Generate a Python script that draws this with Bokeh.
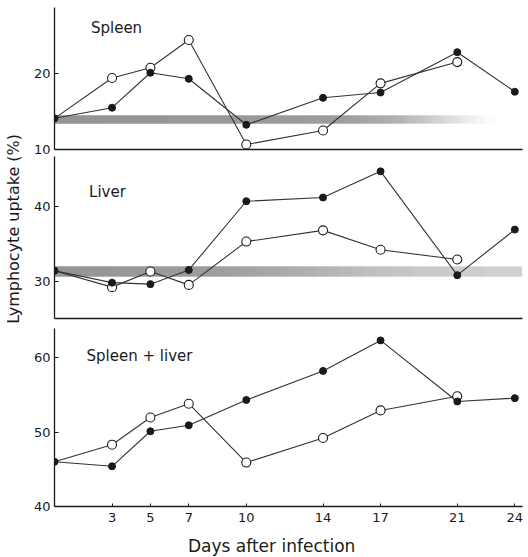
import numpy as np
from bokeh.plotting import figure
from bokeh.layouts import column, row
from bokeh.models import FixedTicker, Label, Range1d
from bokeh.embed import file_html
from bokeh.resources import INLINE

# ---------------- data ----------------
days_filled = [0, 3, 5, 7, 10, 14, 17, 21, 24]
days_open = [0, 3, 5, 7, 10, 14, 17, 21]
x_ticks = [3, 5, 7, 10, 14, 17, 21, 24]

spleen_filled = [14.1, 15.5, 20.1, 19.3, 13.25, 16.8, 17.5, 22.8, 17.6]
spleen_open = [14.1, 19.4, 20.75, 24.4, 10.66, 12.5, 18.7, 21.5]

liver_filled = [31.4, 29.8, 29.6, 31.5, 40.7, 41.2, 44.7, 30.8, 36.9]
liver_open = [31.4, 29.2, 31.3, 29.5, 35.3, 36.8, 34.2, 32.9]

both_filled = [46.0, 45.4, 50.1, 50.9, 54.3, 58.2, 62.3, 54.1, 54.55]
both_open = [46.0, 48.3, 51.95, 53.8, 45.9, 49.2, 52.9, 54.8]

spleen_band = [13.4, 14.5]   # control range
liver_band = [30.6, 32.0]

spleen_ticks = [10, 20]
liver_ticks = [30, 40]
both_ticks = [40, 50, 60]

# ---------------- style ----------------
FONT = "DejaVu Sans"
INK = "#1a1a1a"
LINE = "#333333"
BAND = "#6f6f6f"
X_END = 24.4

x_range = Range1d(0, X_END)
MAIN_W = 504


def make_fig(height, yr, border_top, border_bottom):
    p = figure(width=MAIN_W, height=height, x_range=x_range, y_range=Range1d(*yr),
               output_backend="svg", toolbar_location=None,
               min_border_left=30, min_border_right=6,
               min_border_top=border_top, min_border_bottom=border_bottom)
    p.grid.visible = False
    p.outline_line_color = None
    p.background_fill_color = "white"
    p.border_fill_color = "white"
    for ax in p.xaxis + p.yaxis:
        ax.axis_line_color = INK
        ax.axis_line_width = 1.3
        ax.major_tick_line_color = INK
        ax.major_tick_in = 4
        ax.major_tick_out = 0
        ax.minor_tick_in = 0
        ax.minor_tick_out = 0
        ax.major_label_text_font = FONT
        ax.major_label_text_font_size = "13px"
        ax.major_label_text_color = INK
        ax.major_label_standoff = 4
    return p


def hide_x_labels(p):
    p.xaxis.ticker = FixedTicker(ticks=[])
    p.xaxis.major_label_text_font_size = "0px"
    p.xaxis.major_label_standoff = 0
    p.xaxis.axis_label_standoff = 0


def band(p, lo, hi, stops_x, stops_a, a=0.035):
    # stacked translucent layers give a smooth left-to-right fade
    xs = np.linspace(0, X_END, 800)
    op = np.interp(xs, stops_x, stops_a)
    k = int(np.ceil(np.log(1 - max(stops_a)) / np.log(1 - a)))
    ends = []
    for j in range(1, k + 1):
        t = 1 - (1 - a) ** j
        ok = xs[op >= t - 1e-9]
        if len(ok):
            ends.append(ok.max())
    n = len(ends)
    p.quad(left=[0] * n, right=ends, bottom=[lo] * n, top=[hi] * n,
           fill_color=BAND, fill_alpha=a, line_color=None)


def series(p, yf, yo):
    p.line(days_filled, yf, line_color=LINE, line_width=1.1)
    p.line(days_open, yo, line_color=LINE, line_width=1.1)
    p.scatter(days_open[1:], yo[1:], size=9, fill_color="white",
              line_color=INK, line_width=1.1)
    p.scatter(days_filled, yf, size=7, fill_color=INK, line_color=INK)


def panel_label(p, text, x, y):
    p.add_layout(Label(x=x, y=y, text=text, text_font=FONT,
                       text_font_size="15px", text_color=INK,
                       text_baseline="alphabetic", text_align="left"))


def blank_fig(width, height):
    f = figure(width=width, height=height, x_range=Range1d(0, 1), y_range=Range1d(0, 1),
               output_backend="svg", toolbar_location=None,
               min_border=0, x_axis_type=None, y_axis_type=None)
    f.grid.visible = False
    f.outline_line_color = None
    return f


# top: spleen
p1 = make_fig(156, (10, 28.68), 7, 7)
hide_x_labels(p1)
p1.yaxis.ticker = FixedTicker(ticks=spleen_ticks)
band(p1, *spleen_band, [0, 15, 18, 20, 22, 23.5], [0.7, 0.65, 0.5, 0.3, 0.1, 0.0])
series(p1, spleen_filled, spleen_open)
panel_label(p1, "Spleen", 1.9, 26.0)

# middle: liver
p2 = make_fig(167, (25.0, 46.69), 0, 5)
hide_x_labels(p2)
p2.yaxis.ticker = FixedTicker(ticks=liver_ticks)
band(p2, *liver_band, [0, 8, 14, 18, 24.4], [0.7, 0.65, 0.5, 0.38, 0.3])
series(p2, liver_filled, liver_open)
panel_label(p2, "Liver", 1.8, 41.9)

# bottom: spleen + liver
p3 = make_fig(211, (40, 63.9), 5, 28)
p3.yaxis.ticker = FixedTicker(ticks=both_ticks)
p3.xaxis.ticker = FixedTicker(ticks=x_ticks)
p3.xaxis.major_tick_in = 3
p3.xaxis.major_label_standoff = 6
series(p3, both_filled, both_open)
panel_label(p3, "Spleen + liver", 1.67, 60.2)

# strip holding the x-axis title
xlab = blank_fig(MAIN_W, 23)
xlab.add_layout(Label(x=0.464, y=0.48, text="Days after infection",
                      text_font=FONT, text_font_size="17px", text_color=INK,
                      text_align="center", text_baseline="middle"))

# strip holding the shared y-axis title
ylab = blank_fig(24, 557)
ylab.add_layout(Label(x=0.56, y=0.59, text="Lymphocyte uptake (%)",
                      angle=np.pi / 2, text_font=FONT, text_font_size="16px",
                      text_color=INK, text_align="center", text_baseline="middle"))

layout = row(ylab, column(p1, p2, p3, xlab, spacing=0), spacing=0)
open("out.html", "w").write(file_html(layout, INLINE))
